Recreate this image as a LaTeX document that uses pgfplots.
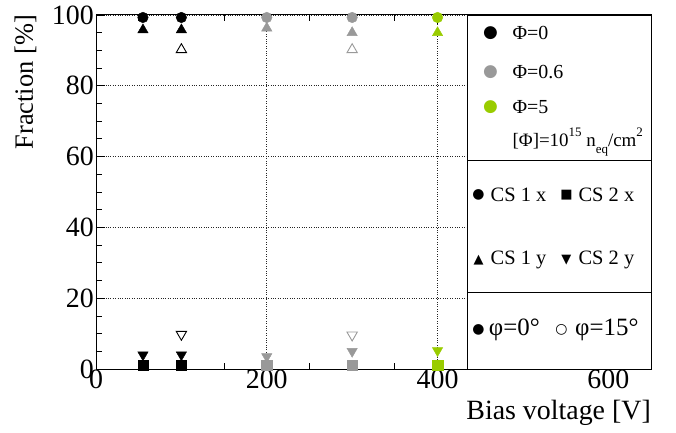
\documentclass[border=0pt]{standalone}
\usepackage{pgfplots}
\pgfplotsset{compat=1.18}
\usepackage{fontspec}
\setmainfont{Liberation Serif}
\newfontfamily\symfont{DejaVu Sans}
\definecolor{cgray}{RGB}{153,153,153}
\definecolor{cgreen}{RGB}{153,204,0}
\begin{document}
\begin{tikzpicture}
\begin{axis}[
  at={(0,0)}, anchor=south west, scale only axis,
  width=555bp, height=354bp,
  xmin=0, xmax=650, ymin=0, ymax=100,
  xtick={0,200,400,600}, ytick={0,20,40,60,80,100},
  minor x tick num=3, minor y tick num=3,
  tick align=inside,
  major tick length=9bp, minor tick length=6bp,
  tick style={black, line width=0.8pt},
  axis line style={line width=1pt},
  grid=major,
  major grid style={dotted, black!85, line width=0.7pt},
  tick label style={font=\fontsize{28}{30}\selectfont},
  xticklabel style={inner sep=1bp},
  yticklabel style={inner sep=2bp},
  /pgf/number format/assume math mode=true,
  clip=false,
]
% Phi = 0 (black)
\addplot[only marks, mark=*, mark size=5.3, black] coordinates {(55,99.3) (100,99.3)};
\addplot[only marks, mark=triangle*, mark size=6, black] coordinates {(55,95.8) (100,95.8)};
\addplot[only marks, mark=square*, mark size=5.2, black] coordinates {(55,1.1) (100,1.1)};
\addplot[only marks, mark=triangle*, mark size=6, mark options={rotate=180}, black] coordinates {(55,4.0) (100,4.0)};
\addplot[only marks, mark=triangle, mark size=6, mark options={line width=0.9pt}, black] coordinates {(100,90.2)};
\addplot[only marks, mark=triangle, mark size=6, mark options={rotate=180, line width=0.9pt}, black] coordinates {(100,9.8)};
% Phi = 0.6 (gray)
\addplot[only marks, mark=*, mark size=5.3, cgray] coordinates {(200,99.3) (300,99.3)};
\addplot[only marks, mark=triangle*, mark size=6, cgray] coordinates {(200,96.3) (300,95.0)};
\addplot[only marks, mark=square*, mark size=5.2, cgray] coordinates {(200,1.1) (300,1.1)};
\addplot[only marks, mark=triangle*, mark size=6, mark options={rotate=180}, cgray] coordinates {(200,3.5) (300,5.0)};
\addplot[only marks, mark=triangle, mark size=6, mark options={line width=0.9pt}, cgray] coordinates {(300,90.2)};
\addplot[only marks, mark=triangle, mark size=6, mark options={rotate=180, line width=0.9pt}, cgray] coordinates {(300,9.6)};
% Phi = 5 (green)
\addplot[only marks, mark=*, mark size=5.3, cgreen] coordinates {(400,99.3)};
\addplot[only marks, mark=triangle*, mark size=6, cgreen] coordinates {(400,95.0)};
\addplot[only marks, mark=square*, mark size=5.2, cgreen] coordinates {(400,1.0)};
\addplot[only marks, mark=triangle*, mark size=6, mark options={rotate=180}, cgreen] coordinates {(400,5.2)};
% legend box
\draw[line width=0.9pt, fill=white] (axis cs:435,0) rectangle (axis cs:650,100);
\draw[line width=0.9pt] (axis cs:435,59) -- (axis cs:650,59);
\draw[line width=0.9pt] (axis cs:435,21.5) -- (axis cs:650,21.5);
\node[text=black] at (axis cs:462,94.9) {\symfont\fontsize{17}{17}\selectfont ●};
\node[text=cgray] at (axis cs:462,83.9) {\symfont\fontsize{17}{17}\selectfont ●};
\node[text=cgreen] at (axis cs:462,74.0) {\symfont\fontsize{17}{17}\selectfont ●};
\node[anchor=west, inner sep=0pt, font=\fontsize{20}{22}\selectfont] at (axis cs:487.7,94.9) {Φ=0};
\node[anchor=west, inner sep=0pt, font=\fontsize{20}{22}\selectfont] at (axis cs:487.7,83.9) {Φ=0.6};
\node[anchor=west, inner sep=0pt, font=\fontsize{20}{22}\selectfont] at (axis cs:487.7,74.0) {Φ=5};
\node[anchor=west, inner sep=0pt, font=\fontsize{19}{22}\selectfont] at (axis cs:487.7,64.1) {[Φ]=10\raisebox{0.55em}{\fontsize{13}{13}\selectfont 15} n\raisebox{-0.35em}{\fontsize{13}{13}\selectfont eq}/cm\raisebox{0.55em}{\fontsize{13}{13}\selectfont 2}};
% CS legend
\node[inner sep=0pt] at (axis cs:448,49.2) {\symfont\fontsize{14}{14}\selectfont ●};
\node[inner sep=0pt] at (axis cs:551,49.2) {\symfont\fontsize{13}{13}\selectfont ■};
\node[inner sep=0pt] at (axis cs:448,30.8) {\symfont\fontsize{13}{13}\selectfont ▲};
\node[inner sep=0pt] at (axis cs:551,30.8) {\symfont\fontsize{13}{13}\selectfont ▼};
\node[anchor=west, inner sep=0pt, font=\fontsize{20.5}{22}\selectfont] at (axis cs:462,49.2) {CS 1 x};
\node[anchor=west, inner sep=0pt, font=\fontsize{20.5}{22}\selectfont] at (axis cs:565,49.2) {CS 2 x};
\node[anchor=west, inner sep=0pt, font=\fontsize{20.5}{22}\selectfont] at (axis cs:462,30.8) {CS 1 y};
\node[anchor=west, inner sep=0pt, font=\fontsize{20.5}{22}\selectfont] at (axis cs:565,30.8) {CS 2 y};
% phi legend
\node[inner sep=0pt] at (axis cs:448,11.0) {\symfont\fontsize{14}{14}\selectfont ●};
\node[inner sep=0pt] at (axis cs:545,11.0) {\symfont\fontsize{14}{14}\selectfont ○};
\node[anchor=west, inner sep=0pt, font=\fontsize{25}{26}\selectfont] at (axis cs:460,11.0) {φ=0°};
\node[anchor=west, inner sep=0pt, font=\fontsize{25}{26}\selectfont] at (axis cs:561,11.0) {φ=15°};
% axis labels
\node[anchor=base east, inner sep=0pt, font=\fontsize{28}{30}\selectfont] at ([yshift=-50bp]rel axis cs:1,0) {Bias voltage [V]};
\node[anchor=base east, rotate=90, inner sep=0pt, font=\fontsize{26.5}{28}\selectfont] at ([xshift=-63bp]rel axis cs:0,1) {Fraction [\%]};
\end{axis}
\pgfresetboundingbox
\path (-96bp,-64bp) rectangle (580bp,369bp);
\end{tikzpicture}
\end{document}
